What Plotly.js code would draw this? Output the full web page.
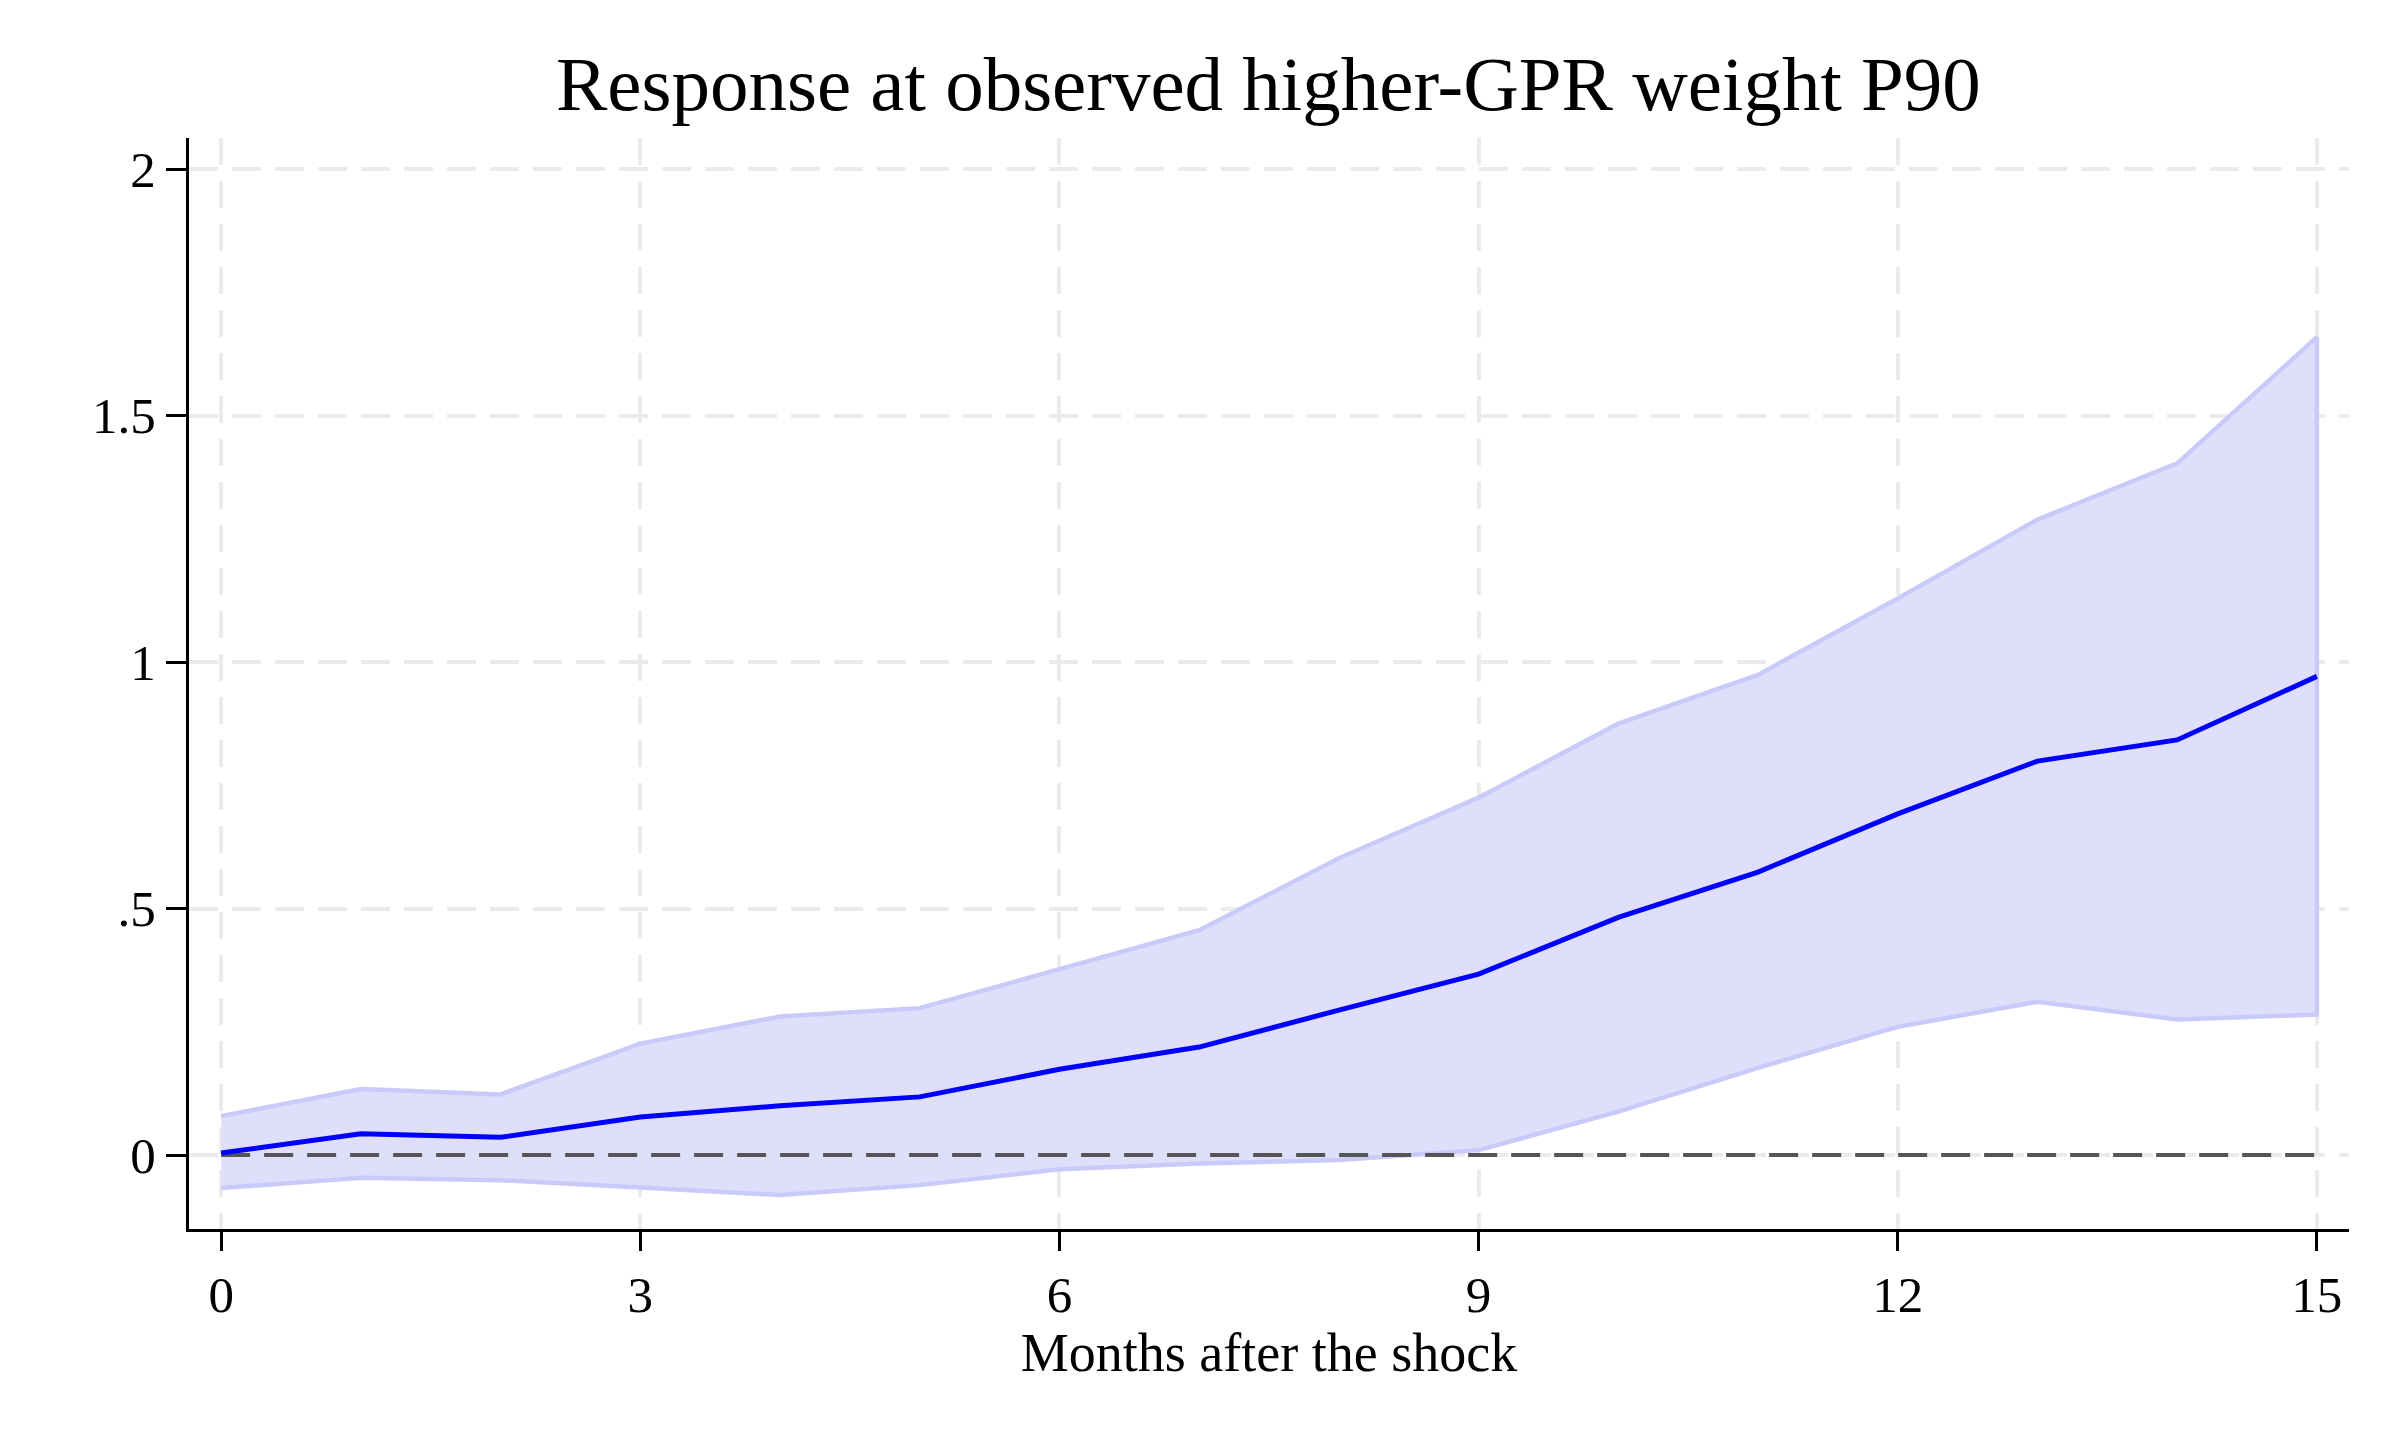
<!DOCTYPE html>
<html>
<head>
<meta charset="utf-8">
<script src="https://cdn.plot.ly/plotly-3.0.1.min.js"></script>
<style>
    html, body { margin: 0; padding: 0; background: #ffffff; }
    #myDiv { width: 2400px; height: 1440px; }
</style>
</head>
<body>
<div id="myDiv"></div>
<script>
/* Impulse response with confidence band, Stata-like look */

// Months after the shock
const months = [0, 1, 2, 3, 4, 5, 6, 7, 8, 9, 10, 11, 12, 13, 14, 15];

// Point estimate and band
const response = [0.004, 0.043, 0.036, 0.077, 0.100, 0.118, 0.174, 0.219,
    0.294, 0.367, 0.482, 0.574, 0.692, 0.799, 0.842, 0.971];
const upperBand = [0.079, 0.134, 0.123, 0.226, 0.281, 0.298, 0.377, 0.456,
    0.602, 0.725, 0.875, 0.974, 1.129, 1.289, 1.403, 1.659];
const lowerBand = [-0.067, -0.046, -0.051, -0.066, -0.081, -0.061, -0.029, -0.017,
    -0.010, 0.010, 0.088, 0.177, 0.260, 0.311, 0.275, 0.285];

// Axis ticks
const xTicks = [0, 3, 6, 9, 12, 15];
const yTicks = [0, 0.5, 1, 1.5, 2];
const yTickLabels = ['0', '.5', '1', '1.5', '2'];

function runPlot() {
    'use strict';

    const serif = 'Liberation Serif, Times New Roman, serif';

    // Closed polygon: upper edge forward, lower edge back
    let bandX = months.concat(months.slice().reverse());
    let bandY = upperBand.concat(lowerBand.slice().reverse());

    let band = {
        x: bandX,
        y: bandY,
        type: 'scatter',
        mode: 'lines',
        fill: 'toself',
        fillcolor: 'rgb(223, 223, 252)',
        line: {color: 'rgb(202, 202, 250)', width: 4.5},
        hoverinfo: 'skip'
    };

    // Reference line at zero, across the horizon
    let zeroLine = {
        x: [months[0], months[months.length - 1]],
        y: [0, 0],
        type: 'scatter',
        mode: 'lines',
        line: {color: '#555555', width: 4, dash: '29px,14px'},
        hoverinfo: 'skip'
    };

    let irf = {
        x: months,
        y: response,
        type: 'scatter',
        mode: 'lines',
        line: {color: '#0000ff', width: 5}
    };

    let layout = {
        width: 2400,
        height: 1440,
        paper_bgcolor: '#ffffff',
        plot_bgcolor: '#ffffff',
        showlegend: false,

        margin: {l: 189, r: 51, t: 138, b: 211, pad: 0},

        title: {
            text: 'Response at observed higher-GPR weight P90',
            font: {family: serif, size: 77, color: '#000000'},
            x: 0.5285,
            xanchor: 'center',
            yref: 'container',
            y: 0.942,
            yanchor: 'middle'
        },

        xaxis: {
            range: [-0.23, 15.23],
            tickvals: xTicks,
            ticktext: xTicks.map(String),
            ticks: 'outside',
            ticklen: 19,
            tickwidth: 3,
            tickcolor: '#000000',
            showline: true,
            linecolor: '#000000',
            linewidth: 3,
            showgrid: true,
            gridcolor: '#ebebeb',
            gridwidth: 4,
            griddash: '27px,16px',
            zeroline: false,
            tickfont: {family: serif, size: 51, color: '#000000'},
            title: {
                text: 'Months after the shock',
                font: {family: serif, size: 54, color: '#000000'},
                standoff: 4
            }
        },

        yaxis: {
            range: [-0.15, 2.063],
            tickvals: yTicks,
            ticktext: yTickLabels,
            ticks: 'outside',
            ticklen: 20,
            tickwidth: 3,
            tickcolor: '#000000',
            showline: true,
            linecolor: '#000000',
            linewidth: 3,
            showgrid: true,
            gridcolor: '#ebebeb',
            gridwidth: 4,
            griddash: '29px,14px',
            zeroline: false,
            tickfont: {family: serif, size: 51, color: '#000000'}
        }
    };

    Plotly.newPlot('myDiv', [band, zeroLine, irf], layout, {displayModeBar: false, staticPlot: true});
}

runPlot();
</script>
</body>
</html>
